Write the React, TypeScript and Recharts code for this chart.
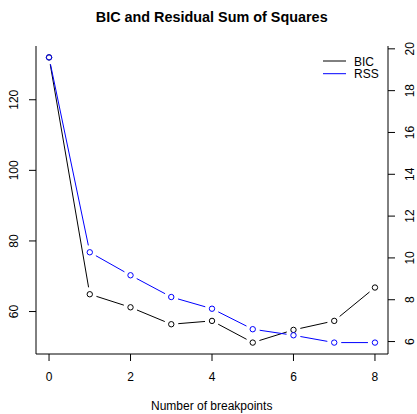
import React from 'react';
import { LineChart, Line, XAxis, YAxis } from 'recharts';

const breakpoints = [0, 1, 2, 3, 4, 5, 6, 7, 8];
const bicValues = [132.0, 64.9, 61.2, 56.4, 57.35, 51.2, 54.8, 57.35, 66.8];
const rssValues = [19.59, 10.27, 9.17, 8.13, 7.57, 6.59, 6.3, 5.95, 5.95];
const xTicks = [0, 2, 4, 6, 8];
const bicTicks = [60, 80, 100, 120];
const rssTicks = [6, 8, 10, 12, 14, 16, 18, 20];

const data = breakpoints.map((b, i) => ({ breakpoints: b, BIC: bicValues[i], RSS: rssValues[i] }));

const pad = (arr: number[]): [number, number] => {
  const mn = Math.min(...arr);
  const mx = Math.max(...arr);
  const e = (mx - mn) * 0.04;
  return [mn - e, mx + e];
};

const FONT = '"Liberation Sans", Arial, Helvetica, sans-serif';
const GAP = 7;

const makeDot = (color: string) => (props: any) => {
  const { cx, cy, index, points } = props;
  let seg: any = null;
  if (points && index < points.length - 1) {
    const nx = points[index + 1].x;
    const ny = points[index + 1].y;
    const dx = nx - cx;
    const dy = ny - cy;
    const len = Math.hypot(dx, dy);
    if (len > 2 * GAP) {
      const ux = dx / len;
      const uy = dy / len;
      seg = (
        <line
          x1={cx + ux * GAP}
          y1={cy + uy * GAP}
          x2={nx - ux * GAP}
          y2={ny - uy * GAP}
          stroke={color}
          strokeWidth={1}
        />
      );
    }
  }
  return (
    <g key={`d-${color}-${index}`}>
      {seg}
      <circle cx={cx} cy={cy} r={2.7} fill="none" stroke={color} strokeWidth={1} />
    </g>
  );
};

const BottomTick = (props: any) => {
  const { x, y, payload } = props;
  return (
    <text x={x} y={y + 18} textAnchor="middle" fontSize={12} fontFamily={FONT} fill="#000">
      {payload.value}
    </text>
  );
};

const LeftTick = (props: any) => {
  const { x, y, payload } = props;
  const bx = x - 8.5;
  return (
    <text x={bx} y={y} transform={`rotate(-90 ${bx} ${y})`} textAnchor="middle" fontSize={12} fontFamily={FONT} fill="#000">
      {payload.value}
    </text>
  );
};

const RightTick = (props: any) => {
  const { x, y, payload } = props;
  const bx = x + 17;
  return (
    <text x={bx} y={y} transform={`rotate(-90 ${bx} ${y})`} textAnchor="middle" fontSize={12} fontFamily={FONT} fill="#000">
      {payload.value}
    </text>
  );
};

export default function App() {
  const xDomain = pad(breakpoints);
  const bicDomain = pad(bicValues);
  const rssDomain = pad(rssValues);
  return (
    <div style={{ position: 'absolute', left: 0, top: 0, width: 417, height: 414, background: '#fff' }}>
      <LineChart width={417} height={414} data={data} margin={{ top: 46, right: 0, bottom: 0, left: 0 }}>
        <XAxis
          xAxisId="top"
          orientation="top"
          dataKey="breakpoints"
          type="number"
          domain={xDomain}
          height={0}
          tick={false}
          tickLine={false}
          axisLine={{ stroke: '#000' }}
        />
        <XAxis
          xAxisId="bottom"
          dataKey="breakpoints"
          type="number"
          domain={xDomain}
          allowDataOverflow
          ticks={xTicks}
          height={60}
          tickSize={7}
          tickMargin={2}
          tick={<BottomTick />}
          tickLine={{ stroke: '#000' }}
          axisLine={{ stroke: '#000' }}
        />
        <YAxis
          yAxisId="left"
          orientation="left"
          type="number"
          domain={bicDomain}
          allowDataOverflow
          ticks={bicTicks}
          width={36}
          tickSize={7}
          tickMargin={2}
          tick={<LeftTick />}
          tickLine={{ stroke: '#000' }}
          axisLine={{ stroke: '#000' }}
        />
        <YAxis
          yAxisId="right"
          orientation="right"
          type="number"
          domain={rssDomain}
          allowDataOverflow
          ticks={rssTicks}
          width={29}
          tickSize={7}
          tickMargin={2}
          tick={<RightTick />}
          tickLine={{ stroke: '#000' }}
          axisLine={{ stroke: '#000' }}
        />
        <Line
          xAxisId="bottom"
          yAxisId="left"
          dataKey="BIC"
          stroke="none"
          dot={makeDot('#000000')}
          activeDot={false}
          isAnimationActive={false}
        />
        <Line
          xAxisId="bottom"
          yAxisId="right"
          dataKey="RSS"
          stroke="none"
          dot={makeDot('#0000ff')}
          activeDot={false}
          isAnimationActive={false}
        />
      </LineChart>
      <svg
        width={417}
        height={414}
        style={{ position: 'absolute', left: 0, top: 0, pointerEvents: 'none' }}
      >
        <text x={211.7} y={21.5} textAnchor="middle" fontSize={14.4} fontWeight="bold" fontFamily={FONT} fill="#000">
          BIC and Residual Sum of Squares
        </text>
        <text x={211.7} y={410} textAnchor="middle" fontSize={12} fontFamily={FONT} fill="#000">
          Number of breakpoints
        </text>
        <line x1={323} y1={61} x2={346} y2={61} stroke="#000" strokeWidth={1} />
        <text x={354} y={65.5} fontSize={12} fontFamily={FONT} fill="#000">BIC</text>
        <line x1={323} y1={73.7} x2={346} y2={73.7} stroke="#0000ff" strokeWidth={1} />
        <text x={354} y={78} fontSize={12} fontFamily={FONT} fill="#000">RSS</text>
      </svg>
    </div>
  );
}
